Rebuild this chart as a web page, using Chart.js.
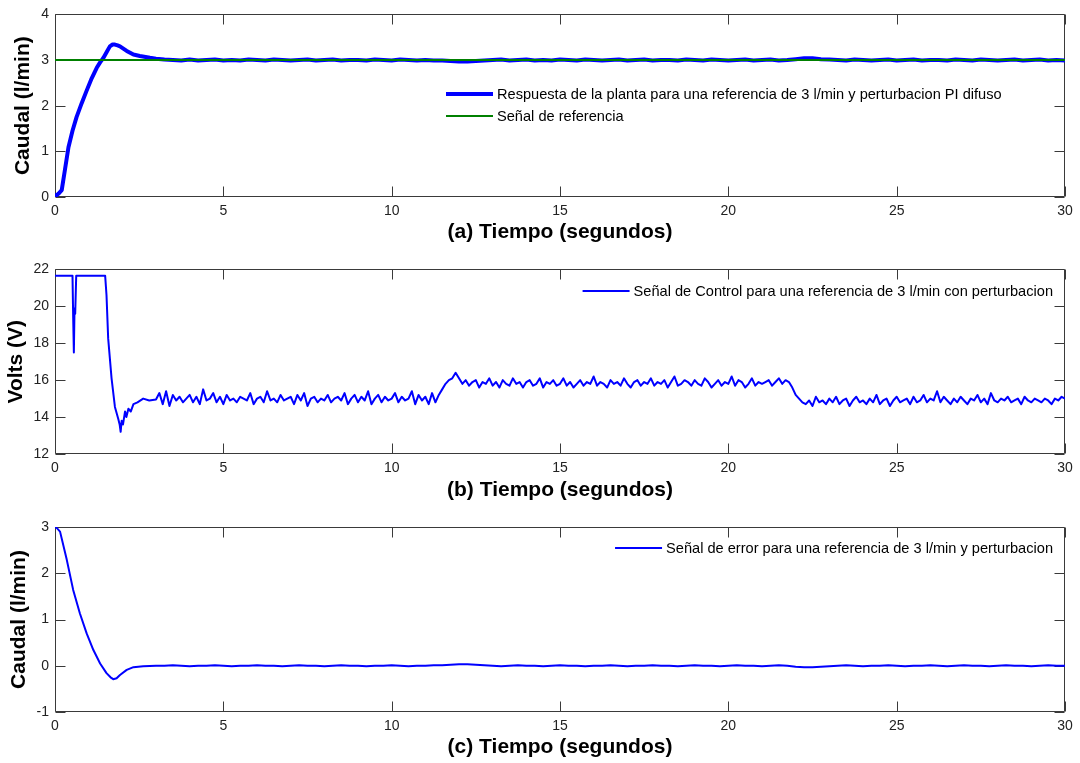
<!DOCTYPE html>
<html lang="es">
<head>
<meta charset="UTF-8">
<title>Respuesta PI difuso con perturbacion</title>
<script src="https://cdn.jsdelivr.net/npm/chart.js"></script>
<style>
    body { margin: 0; background: #fff; }
    .panel { position: absolute; left: 0; width: 1080px; }
    #p1 { top: 0; }
    #p2 { top: 255px; }
    #p3 { top: 510px; }
</style>
</head>
<body>
<div class="panel" id="p1"><canvas id="chart1" width="1080" height="255"></canvas></div>
<div class="panel" id="p2"><canvas id="chart2" width="1080" height="255"></canvas></div>
<div class="panel" id="p3"><canvas id="chart3" width="1080" height="253"></canvas></div>

<script>
// ---- data ----
// (a) plant response, transient part
const respTransT = [0, 0.05, 0.10, 0.20, 0.30, 0.40, 0.52, 0.64, 0.79, 0.94, 1.09, 1.24, 1.34, 1.44, 1.54, 1.63, 1.71, 1.78, 1.86, 1.93, 2.03, 2.13, 2.33, 2.52, 2.82, 3.0];
const respTransV = [0.04, 0.04, 0.07, 0.15, 0.62, 1.09, 1.45, 1.75, 2.05, 2.33, 2.6, 2.83, 2.95, 3.05, 3.18, 3.30, 3.34, 3.34, 3.32, 3.30, 3.25, 3.20, 3.12, 3.09, 3.05, 3.03];
// steady part, sampled every 0.25 s from 3.25 s
const steadyStart = 3.25, steadyStep = 0.25;
const respSteady = [
    3.01, 3.00, 2.99, 3.01, 2.99, 3.00, 3.01, 2.99, 3.00, 2.99,
    3.01, 3.00, 2.99, 3.01, 3.00, 2.99, 3.00, 3.01, 2.99, 3.00,
    3.01, 2.99, 3.00, 3.00, 2.99, 3.01, 3.00, 2.99, 3.01, 3.00,
    2.99, 3.00, 2.99,
    2.99, 2.98, 2.97, 2.97, 2.98, 2.99,               // 11.5 - 12.75
    3.00, 3.01, 2.99, 3.00, 3.01, 2.99, 3.00, 2.99, 3.01, 3.00,
    2.99, 3.01, 3.00, 2.99, 3.00, 3.01, 2.99, 3.00, 3.01, 2.99,
    3.00, 3.00, 2.99, 3.01, 3.00, 2.99, 3.01, 3.00, 2.99, 3.00,
    3.01, 2.99, 3.00, 3.01, 2.99, 3.00,
    3.02, 3.04, 3.04, 3.02,                           // 22.0 - 22.75
    3.01, 3.00, 2.99, 3.01, 3.00, 2.99, 3.00, 3.01, 2.99, 3.00,
    3.01, 2.99, 3.00, 3.00, 2.99, 3.01, 3.00, 2.99, 3.01, 3.00,
    2.99, 3.00, 3.01, 2.99, 3.00, 3.01, 2.99, 3.00, 2.99
];
const refT = [0, 30];
const refV = [3, 3];

// (b) control signal, transient part
const ctrlTransT = [0, 0.52, 0.54, 0.56, 0.58, 0.60, 0.63, 1.49, 1.53, 1.58, 1.68, 1.78, 1.88, 1.92, 1.95, 1.98, 2.02, 2.08, 2.12, 2.18, 2.25, 2.33, 2.45, 2.62, 2.8, 3.0];
const ctrlTransV = [21.65, 21.65, 19.4, 17.5, 19.9, 19.6, 21.65, 21.65, 20.6, 18.25, 16.1, 14.55, 13.9, 13.6, 13.2, 13.8, 13.6, 14.3, 14.0, 14.45, 14.3, 14.7, 14.8, 15.0, 14.9, 14.95];
// noisy part, sampled every 0.1 s from 3.1 s
const ctrlStart = 3.1, ctrlStep = 0.1;
const ctrlNoise = [
    15.3, 14.7, 15.4, 14.6, 15.2, 14.9, 15.1, 14.8, 15.0, 15.2,
    14.8, 15.1, 14.7, 15.5, 14.9, 15.0, 15.3, 14.8, 15.1, 14.7,
    15.2, 14.9, 15.0, 14.8, 15.1, 15.0, 14.9, 15.3, 14.7, 15.0,
    15.1, 14.8, 15.4, 14.9, 15.0, 14.8, 15.2, 14.9, 15.0, 15.1,
    14.7, 15.2, 14.9, 15.3, 14.6, 15.0, 15.1, 14.8, 15.0, 14.9,
    15.2, 14.8, 15.0, 15.1, 14.9, 15.3, 14.7, 15.0, 15.2, 14.8,
    15.1, 14.9, 15.4, 14.7, 15.0, 15.2, 14.8, 15.1, 14.9, 15.0,
    15.3, 14.8, 15.1, 14.9, 15.0, 15.4, 14.7, 15.2, 14.9, 15.1,
    14.7, 15.3, 14.8,
    15.2, 15.5, 15.8, 16.0, 16.1, 16.4,               // 11.4 - 11.9
    16.1, 15.8, 16.0, 15.7, 15.9, 16.0, 15.6, 15.9, 15.8, 16.1,
    15.7, 15.9, 15.6, 16.0, 15.8, 15.7, 16.1, 15.8, 15.9, 15.6,
    15.9, 16.0, 15.7, 15.8, 16.1, 15.6, 15.9, 15.8, 16.0, 15.7,
    15.8, 16.1, 15.7, 15.9, 15.6, 15.8, 16.0, 15.7, 15.9, 15.8,
    16.2, 15.7, 15.9, 15.8, 15.6, 16.0, 15.8, 15.9, 15.7, 16.1,
    15.8, 15.6, 15.9, 16.0, 15.7, 15.9, 15.8, 16.1, 15.7, 15.9,
    15.8, 16.0, 15.6, 15.9, 16.2, 15.7, 15.8, 16.0, 15.9, 15.7,
    16.0, 15.8, 15.7, 16.1, 15.9, 15.6, 15.8, 16.0, 15.7, 15.9,
    15.8, 16.2, 15.7, 16.0, 15.9, 15.6, 15.8, 16.1, 15.7, 15.9,
    15.8, 15.9, 16.0, 15.7, 15.9, 16.1, 15.8, 16.0, 15.9,
    15.6, 15.2, 15.0, 14.8,                           // 21.9 - 22.2
    14.7, 14.9, 14.6, 15.1, 14.8, 14.9, 14.7, 15.0, 14.8, 15.1,
    14.7, 14.9, 15.0, 14.6, 14.9, 15.1, 14.8, 14.9, 14.7, 15.0,
    14.8, 15.2, 14.7, 14.9, 15.0, 14.6, 14.9, 15.1, 14.8, 14.9,
    15.0, 14.7, 15.1, 14.8, 14.9, 15.2, 14.8, 15.0, 14.9, 15.4,
    14.8, 15.1, 14.9, 14.7, 15.0, 14.8, 15.1, 14.9, 14.7, 15.0,
    14.9, 15.2, 14.8, 15.0, 14.7, 15.3, 14.9, 14.8, 15.0, 14.9,
    15.1, 14.8, 14.9, 15.0, 14.7, 15.1, 14.9, 14.8, 15.0, 14.9,
    14.8, 15.0, 14.9, 14.7, 15.0, 14.9, 15.1, 15.0
];

// (c) error signal
const errTransT = [0, 0.05, 0.15, 0.35, 0.54, 0.74, 0.94, 1.14, 1.34, 1.53, 1.65, 1.73, 1.83, 1.93, 2.13, 2.33, 2.62, 3.0];
const errTransV = [3.0, 2.98, 2.90, 2.29, 1.64, 1.13, 0.70, 0.34, 0.05, -0.16, -0.25, -0.29, -0.27, -0.20, -0.09, -0.03, -0.01, 0.0];
const errSteady = [
    0.00, 0.01, 0.00, -0.01, 0.00, 0.00, 0.01, 0.00, -0.01, 0.00,
    0.00, 0.01, 0.00, 0.00, -0.01, 0.00, 0.01, 0.00, 0.00, -0.01,
    0.00, 0.01, 0.00, 0.00, -0.01, 0.00, 0.00, 0.01, 0.00, -0.01,
    0.00, 0.00, 0.01,
    0.01, 0.02, 0.03, 0.03, 0.02, 0.01,
    0.00, -0.01, 0.00, 0.01, 0.00, 0.00, -0.01, 0.00, 0.01, 0.00,
    0.00, -0.01, 0.00, 0.00, 0.01, 0.00, -0.01, 0.00, 0.00, 0.01,
    0.00, 0.00, -0.01, 0.00, 0.01, 0.00, 0.00, -0.01, 0.00, 0.01,
    0.00, 0.00, -0.01, 0.00, 0.01, 0.00,
    -0.02, -0.03, -0.03, -0.02,
    -0.01, 0.00, 0.01, 0.00, -0.01, 0.00, 0.00, 0.01, 0.00, -0.01,
    0.00, 0.00, 0.01, 0.00, -0.01, 0.00, 0.01, 0.00, 0.00, -0.01,
    0.00, 0.01, 0.00, 0.00, -0.01, 0.00, 0.01, 0.00, 0.00
];

const xTicksMax = 30, xStep = 5;

// ---- helpers ----
function joinSeries(tTrans, vTrans, start, step, vals) {
    let pts = tTrans.map((t, i) => ({ x: t, y: vTrans[i] }));
    vals.forEach((v, i) => pts.push({ x: +(start + i * step).toFixed(3), y: v }));
    return pts;
}

const FONT = '"Liberation Sans", Arial, Helvetica, sans-serif';
const BLUE = "#0000ff";
const GREEN = "#008000";

// axes box with inward ticks, matlab look
const boxPlugin = {
    id: "matlabBox",
    beforeDatasetsDraw(chart) {
        let ctx = chart.ctx, a = chart.chartArea;
        let xs = chart.scales.x, ys = chart.scales.y;
        let L = Math.round(a.left) + 0.5, R = Math.round(a.right) - 0.5;
        let T = Math.round(a.top) + 0.5, B = Math.round(a.bottom) - 0.5;
        ctx.save();
        ctx.strokeStyle = "#3a3a3a";
        ctx.lineWidth = 1;
        ctx.beginPath();
        ctx.rect(L, T, R - L, B - T);
        xs.ticks.forEach(tk => {
            let px = Math.round(xs.getPixelForValue(tk.value)) + 0.5;
            ctx.moveTo(px, B); ctx.lineTo(px, B - 10);
            ctx.moveTo(px, T); ctx.lineTo(px, T + 10);
        });
        ys.ticks.forEach(tk => {
            let py = Math.round(ys.getPixelForValue(tk.value)) + 0.5;
            ctx.moveTo(L, py); ctx.lineTo(L + 10, py);
            ctx.moveTo(R, py); ctx.lineTo(R - 10, py);
        });
        ctx.stroke();
        ctx.restore();
    }
};

// legend drawn inside the axes
const legendPlugin = {
    id: "matlabLegend",
    afterDraw(chart, args, opts) {
        let ctx = chart.ctx, a = chart.chartArea;
        ctx.save();
        ctx.font = "14.6px " + FONT;
        ctx.textBaseline = "middle";
        ctx.fillStyle = "#000";
        let widest = 0;
        opts.items.forEach(i => { widest = Math.max(widest, ctx.measureText(chart.data.datasets[i].label).width); });
        let textX = opts.textX !== undefined ? opts.textX : a.right - opts.right - widest;
        let lineEnd = textX - 4, lineStart = lineEnd - 47;
        opts.items.forEach((i, k) => {
            let ds = chart.data.datasets[i];
            let y = opts.y + k * opts.rowGap;
            ctx.strokeStyle = ds.borderColor;
            ctx.lineWidth = ds.borderWidth;
            ctx.beginPath();
            ctx.moveTo(lineStart, y);
            ctx.lineTo(lineEnd, y);
            ctx.stroke();
            ctx.fillText(ds.label, textX, y + 1);
        });
        ctx.restore();
    }
};

function makeChart(id, datasets, cfg) {
    let ctx = document.getElementById(id).getContext("2d");
    return new Chart(ctx, {
        type: "line",
        data: { datasets: datasets },
        plugins: [boxPlugin, legendPlugin],
        options: {
            responsive: false,
            animation: false,
            layout: { padding: { top: cfg.top, right: 15, left: 0, bottom: 0 } },
            elements: { point: { radius: 0 }, line: { tension: 0, borderJoinStyle: "round" } },
            plugins: {
                legend: { display: false },
                tooltip: { enabled: false },
                matlabLegend: cfg.legend
            },
            scales: {
                x: {
                    type: "linear",
                    min: 0, max: xTicksMax,
                    ticks: { stepSize: xStep, padding: cfg.xTickPad, maxRotation: 0, color: "#222", font: { family: FONT, size: 14 } },
                    grid: { display: false, drawTicks: false },
                    border: { display: false },
                    title: { display: true, text: cfg.xTitle, color: "#000", font: { family: FONT, size: 21, weight: "bold" }, padding: { top: 0, bottom: cfg.xTitlePad } },
                    afterFit: s => { s.height = cfg.xHeight; }
                },
                y: {
                    type: "linear",
                    min: cfg.yMin, max: cfg.yMax,
                    ticks: { stepSize: cfg.yStep, padding: 6, color: "#222", font: { family: FONT, size: 14 } },
                    grid: { display: false, drawTicks: false },
                    border: { display: false },
                    title: { display: true, text: cfg.yTitle, color: "#000", font: { family: FONT, size: 21, weight: "bold" }, padding: { top: cfg.yTitlePad, bottom: 0 } },
                    afterFit: s => { s.width = 55; }
                }
            }
        }
    });
}

document.addEventListener("DOMContentLoaded", () => {
    makeChart("chart1", [
        {
            label: "Respuesta de la planta para una referencia de 3 l/min y perturbacion PI difuso",
            data: joinSeries(respTransT, respTransV, steadyStart, steadyStep, respSteady),
            borderColor: BLUE, borderWidth: 4, order: 1
        },
        {
            label: "Señal de referencia",
            data: refT.map((t, i) => ({ x: t, y: refV[i] })),
            borderColor: GREEN, borderWidth: 2, order: 0
        }
    ], {
        top: 13, xHeight: 58, xTickPad: 6, xTitlePad: 10,
        xTitle: "(a) Tiempo (segundos)", yTitle: "Caudal (l/min)", yTitlePad: 11,
        yMin: 0, yMax: 4, yStep: 1,
        legend: { items: [0, 1], textX: 497, y: 94, rowGap: 22 }
    });

    makeChart("chart2", [
        {
            label: "Señal de Control para una referencia de 3 l/min con perturbacion",
            data: joinSeries(ctrlTransT, ctrlTransV, ctrlStart, ctrlStep, ctrlNoise),
            borderColor: BLUE, borderWidth: 2
        }
    ], {
        top: 14, xHeight: 56, xTickPad: 6, xTitlePad: 7,
        xTitle: "(b) Tiempo (segundos)", yTitle: "Volts (V)", yTitlePad: 4,
        yMin: 12, yMax: 22, yStep: 2,
        legend: { items: [0], right: 12, y: 36, rowGap: 22 }
    });

    makeChart("chart3", [
        {
            label: "Señal de error para una referencia de 3 l/min y perturbacion",
            data: joinSeries(errTransT, errTransV, steadyStart, steadyStep, errSteady),
            borderColor: BLUE, borderWidth: 2
        }
    ], {
        top: 17, xHeight: 51, xTickPad: 6, xTitlePad: 3,
        xTitle: "(c) Tiempo (segundos)", yTitle: "Caudal (l/min)", yTitlePad: 7,
        yMin: -1, yMax: 3, yStep: 1,
        legend: { items: [0], right: 12, y: 38, rowGap: 22 }
    });
});
</script>
</body>
</html>
